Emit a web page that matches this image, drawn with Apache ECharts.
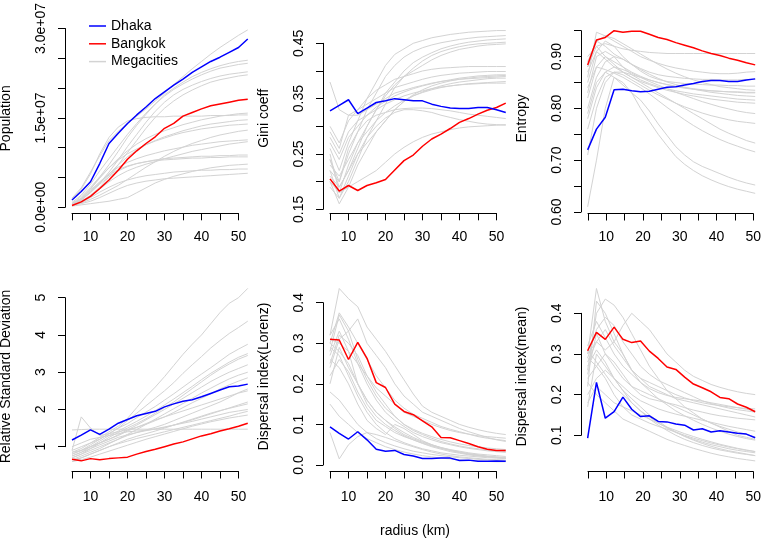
<!DOCTYPE html>
<html>
<head>
<meta charset="utf-8">
<script src="https://cdn.jsdelivr.net/npm/echarts@6/dist/echarts.min.js"></script>
<style>html,body{margin:0;padding:0;background:#fff}#c{width:764px;height:539px}</style>
</head>
<body>
<div id="c"></div>
<script>
// ---------------- DATA ----------------
const radius = [5,7.5,10,12.5,15,17.5,20,22.5,25,27.5,30,32.5,35,37.5,40,42.5,45,47.5,50,52.5];
const xTickLabels = [10,20,30,40,50];

// Population (millions)
const popDhaka   = [1.2,2.6,4.2,7.2,10.5,12.2,13.8,15.2,16.5,17.9,19.0,20.1,21.1,22.2,23.1,24.0,24.7,25.5,26.3,27.7];
const popBangkok = [0.3,0.9,1.8,3.1,4.5,6.1,7.9,9.3,10.5,11.6,13.0,13.8,15.0,15.6,16.2,16.7,17.0,17.3,17.6,17.8];
const popMega = [
 [1.5,3.2,5.8,8.5,11,12.5,13.8,15,16.2,17.5,18.8,20.2,21.5,22.8,24,25.2,26.3,27.3,28.3,29.2],
 [1.2,3,5.5,8.8,11.5,13.2,14.2,14.6,14.8,14.9,14.9,15,15,15,15,15.1,15.1,15.1,15.2,15.2],
 [0.6,1.5,3,5,7,9.2,11.5,13.5,15.3,17,18.5,19.6,20.6,21.5,22.2,22.8,23.3,23.7,24,24.2],
 [0.8,2,3.8,6,8,10,12,13.8,15.5,17,18.3,19.4,20.3,21.1,21.8,22.4,22.9,23.2,23.5,23.7],
 [0.5,1.2,2.5,4,5.8,7.8,10,12,14,15.8,17.3,18.5,19.4,20.1,20.7,21.2,21.6,21.9,22.1,22.3],
 [0.4,1,2,3.3,5,7,9,11,13,14.8,16.3,17.5,18.5,19.3,20,20.6,21,21.3,21.6,21.8],
 [0.5,1.5,3,4.8,6.5,8,9.3,10.4,11.3,12,12.6,13.1,13.6,14,14.4,14.7,15,15.2,15.4,15.5],
 [0.4,1.2,2.5,4,5.5,7,8.3,9.4,10.3,11,11.6,12.1,12.6,13,13.4,13.7,13.9,14.1,14.3,14.4],
 [0.6,1.8,3.3,5,6.5,7.8,8.8,9.6,10.3,10.9,11.4,11.9,12.3,12.6,12.9,13.1,13.3,13.5,13.6,13.7],
 [0.3,0.7,1.3,2,2.8,3.6,4.6,5.6,6.6,7.5,8.4,9.2,9.9,10.5,11,11.5,11.9,12.2,12.5,12.7],
 [0.5,1.4,2.8,4.2,5.5,6.6,7.4,8,8.5,8.9,9.3,9.6,9.9,10.2,10.4,10.6,10.8,10.9,11,11.1],
 [0.3,0.9,1.8,3,4.2,5.2,6,6.6,7.1,7.5,8,8.4,8.8,9.2,9.5,9.8,10.1,10.4,10.6,10.8],
 [0.4,1.2,2.4,3.8,5,6,6.7,7.2,7.5,7.8,8,8.1,8.2,8.3,8.4,8.4,8.5,8.5,8.6,8.6],
 [0.5,1.3,2.6,4,5.3,6.2,6.8,7.2,7.5,7.7,7.8,7.9,8,8.1,8.1,8.2,8.2,8.3,8.3,8.3],
 [0.2,0.4,0.6,0.8,1,1.3,1.6,2.4,3.2,4,4.6,5.1,5.5,5.9,6.2,6.5,6.7,6.9,7,7.1],
 [0.3,0.8,1.6,2.5,3.3,4,4.5,4.9,5.2,5.4,5.6,5.8,5.9,6,6.1,6.1,6.2,6.2,6.3,6.3],
 [0.3,0.6,1,1.6,2.3,3,3.6,4,4.3,4.5,4.7,4.8,4.9,5,5.1,5.2,5.3,5.4,5.5,5.6]
];
const popTickValues = [0,15,30];
const popTickLabels = ['0.0e+00','1.5e+07','3.0e+07'];

// Gini coefficient
const giniDhaka   = [0.328,0.338,0.348,0.323,0.333,0.343,0.346,0.350,0.348,0.346,0.346,0.340,0.336,0.333,0.332,0.332,0.334,0.334,0.330,0.325];
const giniBangkok = [0.205,0.183,0.193,0.184,0.193,0.198,0.204,0.221,0.238,0.248,0.264,0.277,0.286,0.296,0.307,0.314,0.322,0.329,0.334,0.342];
const giniMega = [
 [0.26,0.22,0.27,0.31,0.35,0.38,0.41,0.43,0.44,0.45,0.455,0.46,0.463,0.466,0.468,0.47,0.471,0.472,0.473,0.473],
 [0.24,0.20,0.25,0.29,0.33,0.36,0.39,0.41,0.425,0.435,0.442,0.447,0.451,0.454,0.457,0.459,0.461,0.462,0.463,0.464],
 [0.21,0.19,0.22,0.26,0.30,0.33,0.36,0.38,0.40,0.415,0.425,0.433,0.44,0.445,0.449,0.452,0.454,0.456,0.457,0.458],
 [0.22,0.17,0.20,0.24,0.28,0.31,0.34,0.37,0.39,0.405,0.418,0.428,0.435,0.44,0.444,0.447,0.449,0.45,0.451,0.452],
 [0.25,0.18,0.23,0.27,0.30,0.33,0.355,0.375,0.39,0.40,0.41,0.42,0.428,0.434,0.439,0.442,0.445,0.447,0.448,0.449],
 [0.30,0.27,0.31,0.33,0.35,0.365,0.375,0.385,0.39,0.395,0.40,0.403,0.405,0.406,0.407,0.408,0.408,0.408,0.408,0.408],
 [0.38,0.33,0.32,0.33,0.34,0.35,0.36,0.37,0.375,0.38,0.385,0.389,0.392,0.394,0.396,0.397,0.398,0.399,0.399,0.399],
 [0.27,0.24,0.28,0.30,0.32,0.335,0.345,0.355,0.362,0.368,0.373,0.377,0.381,0.384,0.387,0.389,0.391,0.392,0.393,0.393],
 [0.20,0.16,0.19,0.23,0.26,0.29,0.31,0.33,0.345,0.355,0.362,0.368,0.373,0.377,0.380,0.382,0.384,0.386,0.387,0.387],
 [0.23,0.21,0.24,0.27,0.29,0.31,0.325,0.337,0.347,0.355,0.361,0.366,0.37,0.373,0.375,0.377,0.378,0.379,0.380,0.381],
 [0.28,0.25,0.29,0.31,0.32,0.33,0.34,0.348,0.355,0.36,0.364,0.368,0.371,0.373,0.375,0.376,0.377,0.378,0.378,0.378],
 [0.22,0.20,0.26,0.29,0.31,0.32,0.325,0.33,0.332,0.333,0.333,0.332,0.33,0.328,0.325,0.322,0.32,0.318,0.316,0.314],
 [0.19,0.17,0.21,0.25,0.28,0.30,0.315,0.325,0.33,0.33,0.328,0.325,0.32,0.316,0.312,0.309,0.306,0.304,0.303,0.302],
 [0.20,0.18,0.19,0.20,0.21,0.22,0.235,0.25,0.262,0.272,0.28,0.286,0.29,0.294,0.297,0.299,0.300,0.301,0.302,0.303],
 [0.24,0.19,0.22,0.25,0.27,0.29,0.31,0.33,0.345,0.357,0.366,0.373,0.378,0.382,0.385,0.387,0.389,0.39,0.391,0.392],
 [0.29,0.26,0.32,0.32,0.33,0.34,0.35,0.36,0.365,0.37,0.374,0.378,0.381,0.383,0.385,0.386,0.387,0.388,0.389,0.390]
];
const giniTickValues = [0.15,0.25,0.35,0.45];
const giniTickLabels = ['0.15','0.25','0.35','0.45'];

// Entropy
const entDhaka   = [0.720,0.760,0.783,0.836,0.837,0.834,0.832,0.833,0.837,0.841,0.842,0.845,0.848,0.852,0.854,0.854,0.852,0.852,0.855,0.857];
const entBangkok = [0.884,0.932,0.937,0.950,0.947,0.949,0.949,0.943,0.937,0.933,0.927,0.922,0.917,0.911,0.906,0.902,0.897,0.893,0.888,0.884];
const entMega = [
 [0.88,0.92,0.925,0.92,0.915,0.912,0.91,0.908,0.907,0.906,0.906,0.906,0.906,0.906,0.906,0.906,0.906,0.906,0.906,0.906],
 [0.86,0.947,0.94,0.93,0.92,0.91,0.90,0.893,0.887,0.882,0.878,0.875,0.872,0.870,0.868,0.867,0.867,0.868,0.870,0.871],
 [0.89,0.93,0.92,0.905,0.895,0.885,0.877,0.870,0.865,0.862,0.860,0.858,0.857,0.856,0.856,0.855,0.855,0.855,0.856,0.856],
 [0.85,0.91,0.93,0.92,0.90,0.885,0.872,0.862,0.856,0.852,0.85,0.848,0.847,0.846,0.845,0.845,0.844,0.844,0.843,0.843],
 [0.82,0.88,0.90,0.89,0.88,0.87,0.862,0.855,0.85,0.846,0.843,0.84,0.838,0.836,0.834,0.833,0.832,0.831,0.83,0.83],
 [0.80,0.86,0.89,0.90,0.895,0.885,0.875,0.866,0.858,0.851,0.846,0.841,0.837,0.834,0.831,0.829,0.827,0.825,0.824,0.823],
 [0.83,0.90,0.91,0.90,0.88,0.865,0.855,0.848,0.842,0.838,0.834,0.831,0.828,0.826,0.824,0.822,0.82,0.818,0.817,0.816],
 [0.87,0.91,0.895,0.88,0.87,0.86,0.852,0.846,0.84,0.835,0.831,0.827,0.824,0.821,0.818,0.816,0.814,0.812,0.811,0.81],
 [0.78,0.84,0.87,0.88,0.875,0.868,0.86,0.852,0.845,0.838,0.831,0.825,0.819,0.813,0.808,0.803,0.799,0.795,0.792,0.79],
 [0.76,0.82,0.86,0.87,0.865,0.855,0.845,0.835,0.826,0.818,0.810,0.803,0.797,0.791,0.786,0.782,0.778,0.775,0.773,0.771],
 [0.90,0.92,0.90,0.885,0.87,0.86,0.85,0.84,0.83,0.82,0.81,0.80,0.79,0.78,0.77,0.76,0.752,0.745,0.738,0.733],
 [0.84,0.88,0.875,0.868,0.86,0.85,0.84,0.828,0.815,0.802,0.79,0.778,0.767,0.757,0.748,0.74,0.733,0.727,0.721,0.716],
 [0.79,0.85,0.87,0.86,0.845,0.83,0.816,0.795,0.77,0.748,0.726,0.71,0.697,0.688,0.681,0.674,0.667,0.661,0.656,0.652],
 [0.61,0.70,0.80,0.86,0.85,0.83,0.80,0.775,0.75,0.728,0.707,0.692,0.68,0.67,0.662,0.655,0.649,0.644,0.64,0.636],
 [0.71,0.80,0.85,0.87,0.87,0.865,0.86,0.855,0.85,0.846,0.842,0.839,0.837,0.835,0.834,0.833,0.832,0.832,0.831,0.831],
 [0.88,0.93,0.94,0.935,0.925,0.915,0.905,0.895,0.885,0.876,0.868,0.861,0.855,0.85,0.846,0.842,0.84,0.838,0.836,0.835]
];
const entTickValues = [0.6,0.7,0.8,0.9];
const entTickLabels = ['0.60','0.70','0.80','0.90'];

// Relative Standard Deviation
const rsdDhaka   = [1.18,1.31,1.45,1.33,1.47,1.63,1.73,1.83,1.89,1.95,2.07,2.15,2.22,2.26,2.34,2.43,2.52,2.61,2.63,2.68];
const rsdBangkok = [0.66,0.62,0.68,0.65,0.68,0.70,0.72,0.80,0.87,0.93,1.00,1.07,1.13,1.21,1.29,1.35,1.42,1.48,1.55,1.63];
const rsdMega = [
 [0.85,0.95,1.1,1.25,1.4,1.55,1.76,2.05,2.35,2.6,2.88,3.18,3.48,3.75,4.0,4.3,4.6,4.85,5.0,5.25],
 [0.8,0.9,1.05,1.2,1.35,1.5,1.7,1.9,2.1,2.3,2.5,2.72,2.97,3.2,3.42,3.65,3.85,4.04,4.2,4.37],
 [0.9,1.0,1.1,1.2,1.35,1.5,1.62,1.78,1.93,2.08,2.25,2.42,2.6,2.78,2.95,3.12,3.3,3.48,3.62,3.75],
 [0.75,0.85,1.0,1.15,1.3,1.42,1.55,1.68,1.82,1.97,2.12,2.28,2.45,2.62,2.8,2.97,3.12,3.27,3.4,3.5],
 [0.7,0.8,0.95,1.1,1.25,1.38,1.5,1.62,1.75,1.9,2.05,2.2,2.38,2.56,2.74,2.92,3.08,3.22,3.35,3.45],
 [0.8,0.9,1.0,1.1,1.2,1.32,1.45,1.58,1.72,1.86,2.0,2.15,2.3,2.45,2.6,2.75,2.88,3.0,3.1,3.2],
 [0.65,0.75,0.85,0.95,1.08,1.2,1.33,1.46,1.6,1.74,1.88,2.02,2.16,2.3,2.44,2.57,2.7,2.82,2.92,3.0],
 [0.9,1.8,1.5,1.3,1.35,1.4,1.45,1.52,1.6,1.7,1.8,1.92,2.05,2.18,2.3,2.42,2.55,2.66,2.76,2.85],
 [0.7,0.8,0.9,1.0,1.1,1.2,1.3,1.38,1.45,1.52,1.6,1.7,1.8,1.9,2.0,2.1,2.2,2.32,2.45,2.55],
 [1.0,1.1,1.2,1.25,1.3,1.35,1.4,1.42,1.44,1.47,1.52,1.58,1.65,1.72,1.8,1.88,1.96,2.04,2.12,2.2],
 [0.6,0.7,0.8,0.9,1.0,1.1,1.2,1.28,1.35,1.42,1.5,1.58,1.66,1.74,1.82,1.9,1.97,2.03,2.09,2.15],
 [0.75,0.85,0.95,1.05,1.15,1.25,1.32,1.38,1.43,1.48,1.53,1.58,1.63,1.68,1.74,1.8,1.86,1.92,1.96,2.0],
 [0.65,0.7,0.8,0.9,1.0,1.08,1.15,1.22,1.28,1.34,1.4,1.46,1.52,1.58,1.64,1.7,1.76,1.82,1.89,1.95],
 [0.6,0.65,0.72,0.8,0.88,0.96,1.04,1.12,1.2,1.27,1.34,1.41,1.48,1.55,1.61,1.67,1.72,1.77,1.81,1.85],
 [1.45,1.46,1.47,1.47,1.47,1.47,1.47,1.47,1.47,1.47,1.47,1.47,1.47,1.47,1.47,1.47,1.47,1.47,1.47,1.47],
 [0.85,0.9,1.0,1.1,1.2,1.3,1.42,1.52,1.62,1.72,1.8,1.88,1.96,2.04,2.12,2.2,2.28,2.36,2.44,2.5]
];
const rsdTickValues = [1,2,3,4,5];
const rsdTickLabels = ['1','2','3','4','5'];

// Dispersal index (Lorenz)
const lorDhaka   = [0.094,0.078,0.064,0.082,0.062,0.039,0.034,0.036,0.026,0.022,0.016,0.016,0.017,0.017,0.011,0.012,0.009,0.009,0.010,0.009];
const lorBangkok = [0.310,0.308,0.260,0.302,0.263,0.203,0.191,0.150,0.132,0.124,0.109,0.094,0.068,0.067,0.060,0.053,0.045,0.039,0.036,0.036];
const lorMega = [
 [0.32,0.435,0.41,0.39,0.34,0.31,0.28,0.245,0.21,0.175,0.145,0.13,0.12,0.11,0.1,0.093,0.087,0.082,0.078,0.075],
 [0.30,0.375,0.34,0.30,0.26,0.22,0.19,0.16,0.14,0.125,0.115,0.105,0.095,0.088,0.082,0.076,0.07,0.066,0.063,0.06],
 [0.28,0.37,0.33,0.36,0.30,0.27,0.24,0.2,0.17,0.15,0.13,0.12,0.11,0.1,0.09,0.082,0.075,0.068,0.062,0.058],
 [0.25,0.32,0.30,0.27,0.22,0.18,0.15,0.12,0.1,0.085,0.075,0.066,0.058,0.052,0.047,0.043,0.04,0.037,0.035,0.033],
 [0.31,0.30,0.28,0.25,0.2,0.16,0.13,0.11,0.095,0.08,0.07,0.062,0.055,0.05,0.045,0.041,0.038,0.035,0.033,0.031],
 [0.2,0.29,0.24,0.2,0.16,0.13,0.11,0.09,0.075,0.065,0.056,0.049,0.043,0.038,0.034,0.03,0.027,0.025,0.023,0.021],
 [0.29,0.27,0.22,0.17,0.13,0.1,0.08,0.065,0.055,0.047,0.04,0.035,0.03,0.027,0.024,0.022,0.02,0.018,0.017,0.016],
 [0.26,0.24,0.2,0.15,0.11,0.09,0.075,0.1,0.09,0.075,0.06,0.05,0.042,0.036,0.031,0.027,0.024,0.021,0.019,0.017],
 [0.22,0.26,0.23,0.18,0.14,0.11,0.095,0.08,0.07,0.062,0.054,0.047,0.041,0.036,0.031,0.027,0.024,0.021,0.019,0.018],
 [0.08,0.015,0.05,0.07,0.08,0.075,0.068,0.06,0.052,0.045,0.038,0.032,0.027,0.023,0.02,0.018,0.016,0.014,0.013,0.012],
 [0.27,0.33,0.28,0.2,0.15,0.12,0.1,0.085,0.072,0.062,0.053,0.045,0.039,0.033,0.029,0.025,0.022,0.02,0.018,0.016],
 [0.3,0.28,0.25,0.2,0.16,0.13,0.11,0.094,0.08,0.068,0.058,0.05,0.043,0.037,0.032,0.028,0.025,0.022,0.02,0.018],
 [0.18,0.16,0.13,0.1,0.08,0.065,0.055,0.047,0.04,0.034,0.03,0.026,0.023,0.02,0.018,0.016,0.014,0.013,0.012,0.011],
 [0.32,0.36,0.31,0.25,0.22,0.19,0.17,0.15,0.13,0.12,0.11,0.1,0.092,0.085,0.08,0.076,0.072,0.07,0.068,0.066],
 [0.24,0.31,0.33,0.26,0.21,0.17,0.14,0.12,0.1,0.088,0.078,0.07,0.063,0.057,0.052,0.048,0.045,0.042,0.04,0.038],
 [0.15,0.12,0.1,0.08,0.065,0.055,0.045,0.038,0.032,0.027,0.023,0.02,0.017,0.015,0.013,0.011,0.01,0.009,0.008,0.008]
];
const lorTickValues = [0,0.1,0.2,0.3,0.4];
const lorTickLabels = ['0.0','0.1','0.2','0.3','0.4'];

// Dispersal index (mean)
const meanDhaka   = [0.093,0.230,0.142,0.158,0.194,0.164,0.146,0.148,0.134,0.133,0.128,0.125,0.113,0.116,0.108,0.111,0.108,0.105,0.103,0.094];
const meanBangkok = [0.308,0.353,0.336,0.366,0.336,0.328,0.332,0.307,0.289,0.268,0.262,0.243,0.226,0.217,0.207,0.193,0.190,0.177,0.169,0.158];
const meanMega = [
 [0.30,0.461,0.38,0.33,0.3,0.26,0.23,0.21,0.19,0.175,0.16,0.148,0.137,0.127,0.118,0.11,0.103,0.097,0.092,0.088],
 [0.26,0.40,0.435,0.42,0.39,0.35,0.31,0.27,0.24,0.21,0.19,0.17,0.155,0.14,0.13,0.12,0.11,0.1,0.095,0.09],
 [0.28,0.33,0.31,0.33,0.37,0.40,0.38,0.36,0.33,0.3,0.28,0.26,0.245,0.235,0.225,0.218,0.212,0.207,0.203,0.20],
 [0.22,0.43,0.40,0.35,0.3,0.26,0.24,0.22,0.21,0.2,0.19,0.185,0.18,0.175,0.17,0.165,0.16,0.155,0.15,0.145],
 [0.32,0.38,0.34,0.30,0.27,0.25,0.23,0.215,0.205,0.198,0.193,0.19,0.187,0.184,0.18,0.176,0.172,0.168,0.164,0.16],
 [0.2,0.24,0.26,0.24,0.22,0.2,0.185,0.175,0.165,0.158,0.152,0.147,0.142,0.137,0.132,0.127,0.122,0.118,0.114,0.11],
 [0.31,0.28,0.25,0.22,0.2,0.18,0.16,0.145,0.13,0.118,0.107,0.098,0.09,0.083,0.077,0.072,0.067,0.063,0.06,0.057],
 [0.17,0.3,0.27,0.24,0.21,0.19,0.17,0.15,0.135,0.12,0.108,0.097,0.088,0.08,0.073,0.067,0.062,0.058,0.054,0.05],
 [0.25,0.35,0.3,0.27,0.24,0.22,0.21,0.2,0.19,0.18,0.17,0.16,0.15,0.14,0.13,0.122,0.115,0.108,0.102,0.096],
 [0.23,0.2,0.18,0.16,0.14,0.13,0.12,0.11,0.1,0.09,0.082,0.075,0.068,0.062,0.056,0.051,0.047,0.043,0.04,0.037],
 [0.29,0.27,0.3,0.28,0.25,0.22,0.2,0.19,0.185,0.18,0.175,0.168,0.162,0.157,0.152,0.148,0.145,0.142,0.14,0.138],
 [0.27,0.31,0.28,0.24,0.21,0.18,0.16,0.14,0.125,0.112,0.1,0.09,0.082,0.075,0.069,0.064,0.06,0.056,0.053,0.05],
 [0.18,0.22,0.2,0.18,0.17,0.16,0.15,0.14,0.13,0.12,0.112,0.104,0.097,0.09,0.084,0.078,0.073,0.068,0.064,0.06],
 [0.3,0.33,0.36,0.32,0.29,0.26,0.24,0.23,0.22,0.21,0.2,0.192,0.185,0.18,0.176,0.173,0.17,0.168,0.166,0.165],
 [0.24,0.27,0.24,0.2,0.17,0.15,0.14,0.13,0.122,0.115,0.108,0.1,0.093,0.087,0.081,0.076,0.071,0.067,0.063,0.06],
 [0.29,0.36,0.39,0.37,0.33,0.3,0.27,0.25,0.235,0.225,0.215,0.205,0.195,0.185,0.178,0.172,0.167,0.163,0.16,0.157]
];
const meanTickValues = [0.1,0.2,0.3,0.4];
const meanTickLabels = ['0.1','0.2','0.3','0.4'];

const yTitles = ['Population','Gini coeff','Entropy','Relative Standard Deviation','Dispersal index(Lorenz)','Dispersal index(mean)'];
const xTitle = 'radius (km)';
const seriesNames = ['Dhaka','Bangkok','Megacities'];

// ---------------- LAYOUT / STYLE ----------------
const FONT = "'Liberation Sans', Arial, Helvetica, sans-serif";
const panels = [
 {dhaka:popDhaka, bangkok:popBangkok, mega:popMega, tv:popTickValues, tl:popTickLabels, min:0, max:30, step:5,
  grid:{left:72, top:25, width:166.5, height:182.3}, xOff:6, xMargin:17},
 {dhaka:giniDhaka, bangkok:giniBangkok, mega:giniMega, tv:giniTickValues, tl:giniTickLabels, min:0.15, max:0.45, step:0.05,
  grid:{left:330, top:43.3, width:166.5, height:166}, xOff:4, xMargin:17},
 {dhaka:entDhaka, bangkok:entBangkok, mega:entMega, tv:entTickValues, tl:entTickLabels, min:0.6, max:0.95, step:0.05,
  grid:{left:588, top:30.7, width:166.5, height:181.3}, xOff:1.5, xMargin:17},
 {dhaka:rsdDhaka, bangkok:rsdBangkok, mega:rsdMega, tv:rsdTickValues, tl:rsdTickLabels, min:1, max:5, step:1,
  grid:{left:72, top:297.7, width:166.5, height:149}, xOff:24.8, xMargin:18.5},
 {dhaka:lorDhaka, bangkok:lorBangkok, mega:lorMega, tv:lorTickValues, tl:lorTickLabels, min:0, max:0.4, step:0.1,
  grid:{left:330, top:302.7, width:166.5, height:162.3}, xOff:6.5, xMargin:18.5},
 {dhaka:meanDhaka, bangkok:meanBangkok, mega:meanMega, tv:meanTickValues, tl:meanTickLabels, min:0.1, max:0.4, step:0.1,
  grid:{left:588, top:313.3, width:166.5, height:122}, xOff:36.2, xMargin:18.5}
];
const rowCenters = [118.4, 376.5];
const yTitleX = [6.3, 264, 522];
// data grid extends the axis grid so the lines can run past the last tick (as in R)
const X_EXT_L = 2, X_EXT_R = 5, Y_EXT = 0.1;

const pair = arr => radius.map((r, i) => [r, arr[i]]);
const axisLineStyle = {color:'#000', width:1};

const grids = [], xAxes = [], yAxes = [], series = [], graphics = [];
panels.forEach((p, i) => {
  grids.push(Object.assign({containLabel:false}, p.grid));
  xAxes.push({
    type:'value', gridIndex:i, min:5, max:50, interval:5, offset:p.xOff,
    axisLine:{show:true, onZero:false, lineStyle:axisLineStyle},
    axisTick:{show:true, length:7, lineStyle:axisLineStyle},
    splitLine:{show:false},
    axisLabel:{fontSize:14, fontFamily:FONT, color:'#000', margin:p.xMargin,
      formatter: v => (Math.abs(v - Math.round(v)) < 1e-6 && xTickLabels.indexOf(Math.round(v)) >= 0) ? String(Math.round(v)) : ''}
  });
  yAxes.push({
    type:'value', gridIndex:i, min:p.min, max:p.max, interval:p.step, offset:7,
    axisLine:{show:true, onZero:false, lineStyle:axisLineStyle},
    axisTick:{show:true, length:7, lineStyle:axisLineStyle},
    splitLine:{show:false},
    axisLabel:{fontSize:14, fontFamily:FONT, color:'#000', margin:17, rotate:90,
      formatter: v => { const k = p.tv.findIndex(t => Math.abs(t - v) < 1e-9); return k >= 0 ? p.tl[k] : ''; }}
  });
});
panels.forEach((p, i) => {
  const g = p.grid, ppx = g.width / 45, range = p.max - p.min;
  const di = panels.length + i;
  grids.push({containLabel:false, left:g.left - X_EXT_L * ppx, width:(45 + X_EXT_L + X_EXT_R) * ppx,
              top:g.top - Y_EXT * g.height, height:g.height * (1 + 2 * Y_EXT)});
  xAxes.push({type:'value', gridIndex:di, show:false, min:5 - X_EXT_L, max:50 + X_EXT_R, splitLine:{show:false}});
  yAxes.push({type:'value', gridIndex:di, show:false, min:p.min - Y_EXT * range, max:p.max + Y_EXT * range, splitLine:{show:false}});
  p.mega.forEach(m => series.push({
    type:'line', name:seriesNames[2], xAxisIndex:di, yAxisIndex:di, data:pair(m),
    symbol:'none', clip:false, silent:true, color:'#d3d3d3',
    lineStyle:{color:'#d3d3d3', width:1}
  }));
  series.push({type:'line', name:seriesNames[1], xAxisIndex:di, yAxisIndex:di, data:pair(p.bangkok),
    symbol:'none', clip:false, silent:true, color:'#ff0000', lineStyle:{color:'#ff0000', width:1.5}});
  series.push({type:'line', name:seriesNames[0], xAxisIndex:di, yAxisIndex:di, data:pair(p.dhaka),
    symbol:'none', clip:false, silent:true, color:'#0000ff', lineStyle:{color:'#0000ff', width:1.5}});
  graphics.push({type:'text', x:yTitleX[i % 3], y:rowCenters[Math.floor(i / 3)], rotation:Math.PI / 2,
    style:{text:yTitles[i], font:'14px ' + FONT, fill:'#000', align:'center', verticalAlign:'middle'}});
});
graphics.push({type:'text', x:415, y:530.7,
  style:{text:xTitle, font:'14px ' + FONT, fill:'#000', align:'center', verticalAlign:'middle'}});

const chart = echarts.init(document.getElementById('c'), null, {renderer:'canvas'});
chart.setOption({
  animation:false,
  backgroundColor:'#fff',
  grid:grids, xAxis:xAxes, yAxis:yAxes, series:series, graphic:graphics,
  legend:{data:seriesNames, orient:'vertical', left:89, top:19, padding:0,
    icon:'rect', itemWidth:17, itemHeight:1.5, itemGap:3.8, selectedMode:false,
    textStyle:{fontSize:14, lineHeight:14, fontFamily:FONT, color:'#000'}}
});
</script>
</body>
</html>
